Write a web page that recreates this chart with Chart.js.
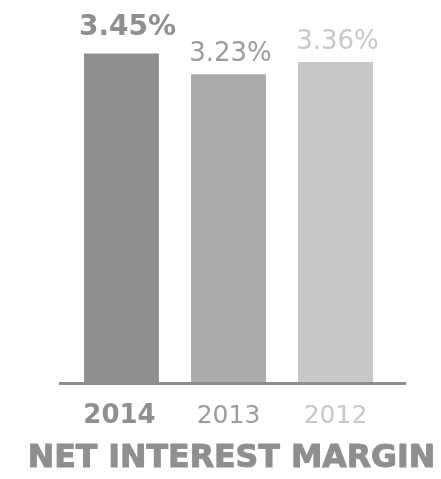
<!DOCTYPE html>
<html>
<head>
<meta charset="utf-8">
<script src="https://cdn.jsdelivr.net/npm/chart.js@4"></script>
<style>
  html, body { margin: 0; padding: 0; background: #fff; }
  #wrap { width: 441px; height: 479px; position: relative; }
</style>
</head>
<body>
<div id="wrap"><canvas id="nim" width="441" height="479"></canvas></div>
<script>
// Net interest margin, by year
const years = ['2014', '2013', '2012'];
const marginPct = [3.45, 3.23, 3.36];
const marginLabels = ['3.45%', '3.23%', '3.36%'];

const BAR_COLORS  = ['#8e908f', '#aaabab', '#c8c8c8'];
const TEXT_COLORS = ['#8e908f', '#9b9d9c', '#c8c8c8'];
const FONT = "'DejaVu Sans', sans-serif";

// value labels, year labels, base rule and title — all drawn after the bars
const annotate = {
  id: 'annotate',
  afterDatasetsDraw(chart) {
    const { ctx, chartArea } = chart;
    const bars = chart.getDatasetMeta(0).data;
    ctx.save();

    // base rule, a little wider than the plot
    ctx.strokeStyle = '#8c8e8d';
    ctx.lineWidth = 3;
    ctx.beginPath();
    ctx.moveTo(chartArea.left - 9, chartArea.bottom + 1.5);
    ctx.lineTo(chartArea.right + 17, chartArea.bottom + 1.5);
    ctx.stroke();

    ctx.textAlign = 'center';
    ctx.textBaseline = 'alphabetic';
    bars.forEach((bar, i) => {
      const first = i === 0;
      ctx.fillStyle = TEXT_COLORS[i];
      ctx.font = (first ? 'bold 28px ' : '26px ') + FONT;
      ctx.fillText(marginLabels[i], bar.x + (first ? 6 : 2), bar.y - (first ? 18 : 13));

      ctx.font = (first ? 'bold 26px ' : '25px ') + FONT;
      ctx.fillText(years[i], bar.x - (first ? 2 : 0), chartArea.bottom + 41);
    });

    // heavy title: fill plus a thin stroke to thicken the strokes
    ctx.fillStyle = '#8e908f';
    ctx.strokeStyle = '#8e908f';
    ctx.lineWidth = 1;
    ctx.lineJoin = 'round';
    ctx.font = 'bold 31.6px ' + FONT;
    ctx.fillText('NET INTEREST MARGIN', 231.5, chartArea.bottom + 85);
    ctx.strokeText('NET INTEREST MARGIN', 231.5, chartArea.bottom + 85);
    ctx.restore();
  }
};

new Chart(document.getElementById('nim'), {
  type: 'bar',
  data: {
    labels: years,
    datasets: [{
      data: marginPct,
      backgroundColor: BAR_COLORS,
      borderWidth: 0,
      barPercentage: 0.7,
      categoryPercentage: 1
    }]
  },
  options: {
    responsive: false,
    animation: false,
    layout: { padding: { left: 68, right: 52, top: 1, bottom: 97 } },
    plugins: { legend: { display: false }, tooltip: { enabled: false } },
    scales: {
      x: { display: false },
      y: { display: false, min: 0, max: 4 }
    }
  },
  plugins: [annotate]
});
</script>
</body>
</html>
